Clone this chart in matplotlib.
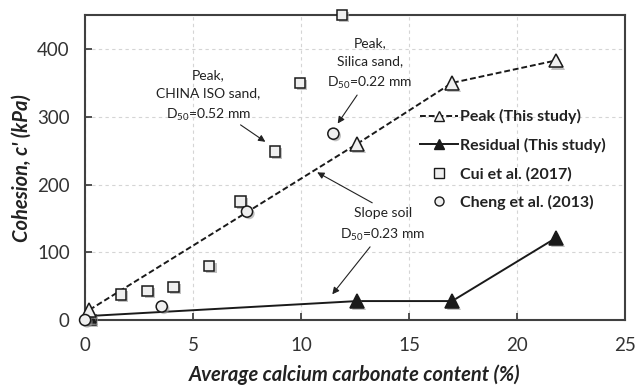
import matplotlib
matplotlib.use("Agg")
import matplotlib.pyplot as plt
import matplotlib.patheffects as pe
from matplotlib.lines import Line2D

plt.rcParams['font.family'] = ['Lato', 'DejaVu Sans']
plt.rcParams['mathtext.fontset'] = 'custom'
plt.rcParams['mathtext.rm'] = 'Lato'

# this study: peak and residual cohesion vs carbonate content
peak_x = [0.2, 12.6, 17.0, 21.8]
peak_y = [15, 260, 350, 383]
resid_x = [0.2, 12.6, 17.0, 21.8]
resid_y = [6, 28, 28, 121]

# literature data
cui_x = [0.25, 1.65, 2.9, 4.1, 5.75, 7.2, 8.8, 9.95, 11.9]
cui_y = [0, 38, 43, 49, 80, 175, 249, 350, 450]
cheng_x = [0.0, 3.55, 7.5, 11.5]
cheng_y = [0, 20, 160, 275]

shadow = [pe.SimplePatchShadow(offset=(1.5, -1.5), shadow_rgbFace='#999999', alpha=0.6), pe.Normal()]
edge = '#1a1a1a'
face = '#efefef'

fig = plt.figure(figsize=(6.35, 3.87), dpi=100)
ax = fig.add_axes([0.134, 0.173, 0.85, 0.788])

ax.plot(peak_x, peak_y, ls=(0, (3, 1.5)), color=edge, lw=1.4, zorder=3)
ax.plot(resid_x, resid_y, ls='-', color=edge, lw=1.4, zorder=3)

ax.plot(cui_x, cui_y, 's', ms=7.5, mfc=face, mec=edge, mew=1.1, clip_on=False,
        path_effects=shadow, zorder=4)
ax.plot(resid_x, resid_y, '^', ms=10, mfc=edge, mec=edge, mew=1.1, clip_on=False,
        path_effects=shadow, zorder=4.5)
ax.plot(peak_x, peak_y, '^', ms=10, mfc=face, mec=edge, mew=1.1, clip_on=False,
        path_effects=shadow, zorder=5)
ax.plot(cheng_x, cheng_y, 'o', ms=8, mfc=face, mec=edge, mew=1.1, clip_on=False,
        path_effects=shadow, zorder=6)

ax.set_xlim(0, 25)
ax.set_ylim(0, 450)
ax.set_xticks([0, 5, 10, 15, 20, 25])
ax.set_yticks([0, 100, 200, 300, 400])
ax.tick_params(direction='in', length=5, width=1.2, labelsize=13.5, colors='#333333',
               labelcolor='#333333')
ax.tick_params(axis='x', pad=12)
ax.tick_params(axis='y', pad=11)
ax.grid(True, ls=(0, (3, 3)), color='#d5d5d5', lw=0.8)
ax.set_axisbelow(True)
for sp in ax.spines.values():
    sp.set_color('#404040')
    sp.set_linewidth(1.5)

ax.set_xlabel('Average calcium carbonate content (%)', fontsize=14.5,
              fontweight='bold', style='italic', color='#222222', labelpad=8)
ax.set_ylabel("Cohesion, c' (kPa)", fontsize=14.5, fontweight='bold',
              style='italic', color='#222222', labelpad=4)

# annotations
arrow = dict(arrowstyle='-|>', lw=0.8, color='#222222', mutation_scale=10,
             shrinkA=0, shrinkB=0)
txt = dict(fontsize=10, ha='center', va='center', color='#222222', linespacing=1.6)

ax.text(5.7, 330, 'Peak,\nCHINA ISO sand,\nD$_{50}$=0.52 mm', **txt)
ax.annotate('', xy=(8.35, 263), xytext=(7.2, 288), arrowprops=arrow)

ax.text(13.2, 378, 'Peak,\nSilica sand,\nD$_{50}$=0.22 mm', **txt)
ax.annotate('', xy=(11.7, 290), xytext=(12.6, 332), arrowprops=arrow)

ax.text(13.8, 140, 'Slope soil\nD$_{50}$=0.23 mm', **txt)
ax.annotate('', xy=(10.75, 218), xytext=(13.3, 173), arrowprops=arrow)
ax.annotate('', xy=(11.45, 38), xytext=(13.2, 108), arrowprops=arrow)

handles = [
    Line2D([], [], ls=(0, (3, 1.5)), color=edge, lw=1.4, marker='^', ms=7,
           mfc=face, mec=edge),
    Line2D([], [], ls='-', color=edge, lw=1.4, marker='^', ms=7, mfc=edge, mec=edge),
    Line2D([], [], ls='none', marker='s', ms=6.5, mfc=face, mec=edge),
    Line2D([], [], ls='none', marker='o', ms=6.5, mfc=face, mec=edge),
]
labels = ['Peak (This study)', 'Residual (This study)', 'Cui et al. (2017)',
          'Cheng et al. (2013)']
ax.legend(handles, labels, loc='upper left', bbox_to_anchor=(0.593, 0.738),
          frameon=False, handlelength=2.4, handletextpad=0.15, labelspacing=0.85,
          prop={'weight': 'bold', 'size': 11.5}, labelcolor='#222222')

fig.savefig('out.png', dpi=100)
